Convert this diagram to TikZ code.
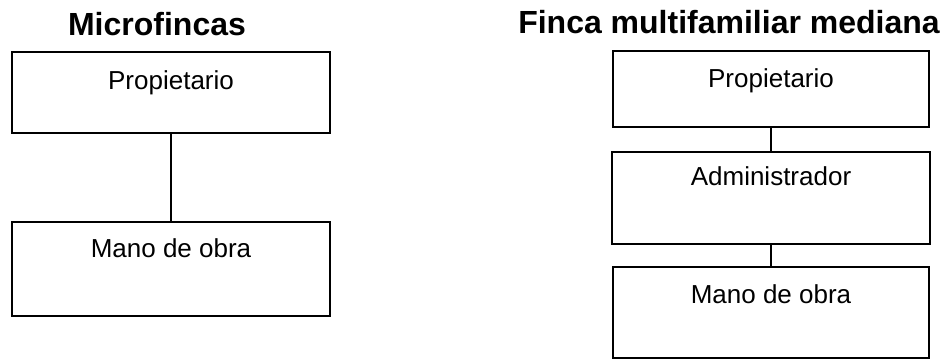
\documentclass[tikz,border=0pt]{standalone}
\usepackage{fontspec}
\setmainfont{Liberation Sans}
\tikzset{
    caja/.style={draw, line width=1.4pt, inner sep=0pt, anchor=base,
        font=\fontsize{26}{31}\selectfont},
    titulo/.style={anchor=base, inner sep=0pt,
        font=\fontsize{32}{37}\selectfont\bfseries},
    enlace/.style={line width=1.4pt}
}
\begin{document}
\begin{tikzpicture}[x=1pt, y=-1pt]
    \useasboundingbox (0,0) rectangle (944,360);
    
    % Microfincas
    \node[titulo] (tizq) at (157,35) {Microfincas};
    \node[caja, minimum width=318pt, text height=37pt, text depth=44pt]
        (propA) at (171,89) {Propietario};
    \node[caja, minimum width=318pt, text height=35pt, text depth=59pt]
        (manoA) at (171,257) {Mano de obra};
    \draw[enlace] (propA.south) -- (manoA.north);
    
    % Finca multifamiliar mediana
    \node[titulo] (tder) at (729,33) {Finca multifamiliar mediana};
    \node[caja, minimum width=316pt, text height=36pt, text depth=40pt]
        (propB) at (771,87) {Propietario};
    \node[caja, minimum width=318pt, text height=33pt, text depth=59pt]
        (admB) at (771,185) {Administrador};
    \node[caja, minimum width=316pt, text height=36pt, text depth=55pt]
        (manoB) at (771,303) {Mano de obra};
    \draw[enlace] (propB.south) -- (admB.north);
    \draw[enlace] (admB.south) -- (manoB.north);
\end{tikzpicture}
\end{document}
